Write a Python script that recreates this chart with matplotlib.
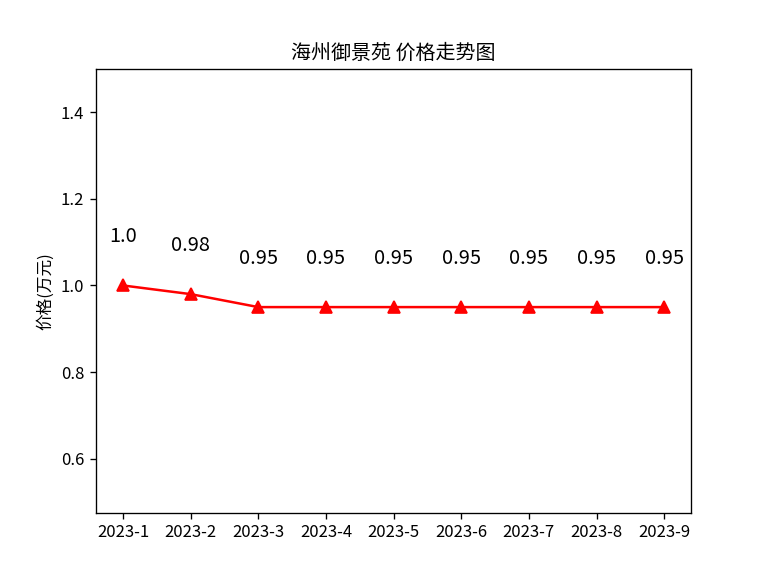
import matplotlib
matplotlib.use("Agg")
import matplotlib.pyplot as plt

plt.rcParams['font.family'] = ['Noto Sans CJK SC', 'DejaVu Sans']
plt.rcParams['axes.unicode_minus'] = False

months = ["2023-1", "2023-2", "2023-3", "2023-4", "2023-5", "2023-6", "2023-7", "2023-8", "2023-9"]
prices = [1.0, 0.98, 0.95, 0.95, 0.95, 0.95, 0.95, 0.95, 0.95]
title = "海州御景苑 价格走势图"
ylabel = "价格(万元)"

fig = plt.figure(figsize=(6.4, 4.8), dpi=120)
ax = fig.add_subplot(111)
ax.plot(months, prices, color='red', marker='^', markersize=7)
for m, p in zip(months, prices):
    ax.text(m, p + 0.1, str(p), ha='center', va='baseline', fontsize=12)
ax.set_ylim(min(prices) * 0.5, max(prices) * 1.5)
ax.set_title(title, fontsize=12)
ax.set_ylabel(ylabel)
fig.savefig("out.png", dpi=120)
